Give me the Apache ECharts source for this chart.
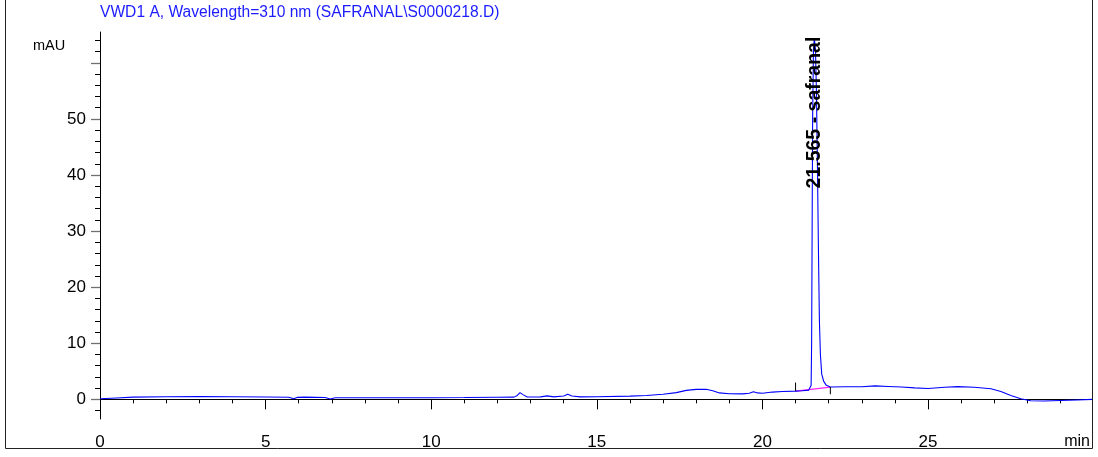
<!DOCTYPE html>
<html>
<head>
<meta charset="utf-8">
<title>VWD1 A, Wavelength=310 nm</title>
<script src="https://cdn.jsdelivr.net/npm/echarts@6/dist/echarts.min.js"></script>
<style>
  html, body { margin: 0; padding: 0; background: #fff; }
  #chart { width: 1098px; height: 457px; }
</style>
</head>
<body>
<div id="chart"></div>
<script>
// Chromatogram trace: retention time (min) and detector signal (mAU)
const times = [
  0.0, 0.5, 1.0, 2.0, 3.0, 4.0, 5.0, 5.7, 5.85, 5.95, 6.2, 6.8, 6.95, 7.1,
  8.0, 9.0, 10.0, 11.0, 12.0, 12.5, 12.6, 12.68, 12.78, 12.9, 13.3, 13.5, 13.7,
  14.0, 14.12, 14.25, 14.5, 15.0, 16.0, 16.5, 17.0, 17.4, 17.7, 18.0, 18.3,
  18.5, 18.7, 19.0, 19.4, 19.6, 19.73, 19.85, 20.0, 20.3, 20.6, 21.0, 21.2,
  21.4, 21.47, 21.485, 21.5, 21.515, 21.54, 21.565, 21.6, 21.63, 21.66, 21.69,
  21.72, 21.75, 21.79, 21.85, 21.93, 22.05, 22.5, 23.0, 23.4, 23.8, 24.2,
  24.6, 25.0, 25.5, 25.9, 26.4, 26.9, 27.2, 27.5, 27.8, 28.1, 28.5, 29.0,
  29.5, 29.95
];
const signal = [
  0.10, 0.25, 0.40, 0.48, 0.52, 0.48, 0.42, 0.38, 0.10, 0.35, 0.40, 0.32, 0.08, 0.30,
  0.30, 0.28, 0.30, 0.33, 0.38, 0.40, 0.70, 1.20, 0.80, 0.42, 0.45, 0.62, 0.45,
  0.60, 0.90, 0.60, 0.45, 0.48, 0.58, 0.70, 0.90, 1.20, 1.60, 1.78, 1.80,
  1.55, 1.15, 1.00, 0.98, 1.10, 1.35, 1.15, 1.10, 1.30, 1.40, 1.47, 1.55,
  1.65, 2.5, 10, 30, 50, 62, 64.4, 62.5, 55, 42, 27,
  14, 8, 4.5, 3.2, 2.5, 2.2, 2.25, 2.25, 2.40, 2.30, 2.20,
  2.05, 1.95, 2.15, 2.28, 2.15, 1.90, 1.40, 0.70, 0.10, -0.25, -0.30, -0.20,
  -0.10, 0.00
];

// Integrated peak
const peakTime = 21.565;
const peakHeight = 64.4;
const peakName = 'safranal';
const baselineStart = [21.0, 1.47];
const baselineEnd = [22.05, 2.2];
const startMark = [[21.0, 1.5], [21.0, 3.0]];
const endMark = [[22.05, 2.2], [22.05, 0.9]];

// Axis ticks and labels
const yMajor = [0, 10, 20, 30, 40, 50, 60];
const yMinor = [-2, 2, 4, 6, 8, 12, 14, 16, 18, 22, 24, 26, 28, 32, 34, 36, 38,
  42, 44, 46, 48, 52, 54, 56, 58, 62, 64];
const yLabels = [0, 10, 20, 30, 40, 50];
const xMajor = [0, 5, 10, 15, 20, 25];
const xMinor = [1, 2, 3, 4, 6, 7, 8, 9, 11, 12, 13, 14, 16, 17, 18, 19, 21, 22,
  23, 24, 26, 27, 28, 29];

const titleText = 'VWD1 A, Wavelength=310 nm (SAFRANAL\\S0000218.D)';
const yUnit = 'mAU';
const xUnit = 'min';

const FONT = '"Liberation Sans", Arial, sans-serif';
const Y_MIN = -3.5, Y_MAX = 65.5, X_MIN = 0, X_MAX = 29.95;

const trace = times.map((t, i) => [t, signal[i]]);

const chart = echarts.init(document.getElementById('chart'), null, { renderer: 'canvas' });

chart.setOption({
  animation: false,
  backgroundColor: '#fff',
  grid: { left: 100, right: 6, top: 32, bottom: 38 },
  xAxis: [
    {
      type: 'value', min: X_MIN, max: X_MAX,
      axisLine: { show: true, lineStyle: { color: '#000', width: 1 } },
      axisTick: { show: true, length: 10, customValues: xMajor, lineStyle: { color: '#000' } },
      axisLabel: { customValues: xMajor, margin: 15, color: '#000', fontSize: 17, fontFamily: FONT },
      splitLine: { show: false }
    },
    {
      type: 'value', min: X_MIN, max: X_MAX, position: 'bottom',
      axisLine: { show: false },
      axisTick: { show: true, length: 4, customValues: xMinor, lineStyle: { color: '#000' } },
      axisLabel: { show: false },
      splitLine: { show: false }
    }
  ],
  yAxis: [
    {
      type: 'value', min: Y_MIN, max: Y_MAX,
      axisLine: { show: true, lineStyle: { color: '#000', width: 1 } },
      axisTick: { show: true, length: 9, customValues: yMajor, lineStyle: { color: '#707070', width: 1.3 } },
      axisLabel: { customValues: yLabels, margin: 14, color: '#000', fontSize: 17, fontFamily: FONT },
      splitLine: { show: false }
    },
    {
      type: 'value', min: Y_MIN, max: Y_MAX, position: 'left',
      axisLine: { show: false },
      axisTick: { show: true, length: 5, customValues: yMinor, lineStyle: { color: '#000' } },
      axisLabel: { show: false },
      splitLine: { show: false }
    }
  ],
  graphic: [
    {
      type: 'polyline', silent: true,
      shape: { points: [[5.5, 0], [5.5, 448.5], [1092.5, 448.5], [1092.5, 0]] },
      style: { stroke: '#222', lineWidth: 1, fill: null }
    },
    {
      type: 'text', left: 100, top: 5,
      style: { text: titleText, fill: '#1c1cff', font: '15.6px ' + FONT }
    },
    {
      type: 'text', left: 33, top: 38,
      style: { text: yUnit, fill: '#000', font: '14.5px ' + FONT }
    },
    {
      type: 'text', right: 8, top: 434,
      style: { text: xUnit, fill: '#000', font: '16px ' + FONT }
    }
  ],
  series: [
    {
      name: 'baseline', type: 'line', xAxisIndex: 0, yAxisIndex: 0,
      data: [baselineStart, baselineEnd], showSymbol: false, silent: true,
      lineStyle: { color: '#ff22ff', width: 1.2 }, z: 2
    },
    {
      name: 'VWD1 A', type: 'line', xAxisIndex: 0, yAxisIndex: 0,
      data: trace, showSymbol: false, silent: true,
      lineStyle: { color: '#0000ff', width: 1.1 }, z: 3,
      markPoint: {
        silent: true, symbol: 'circle', symbolSize: 1,
        itemStyle: { color: 'rgba(0,0,0,0)' },
        data: [{
          coord: [peakTime, peakHeight],
          label: {
            show: true,
            formatter: peakTime.toFixed(3) + ' - ' + peakName,
            position: [1, -1], rotate: 90, align: 'right', verticalAlign: 'middle',
            color: '#000', fontWeight: 'bold', fontSize: 19.5, fontFamily: FONT
          }
        }]
      }
    },
    {
      name: 'start', type: 'line', data: startMark, showSymbol: false, silent: true,
      lineStyle: { color: '#000', width: 1 }, z: 4
    },
    {
      name: 'end', type: 'line', data: endMark, showSymbol: false, silent: true,
      lineStyle: { color: '#000', width: 1 }, z: 4
    }
  ]
});
</script>
</body>
</html>
